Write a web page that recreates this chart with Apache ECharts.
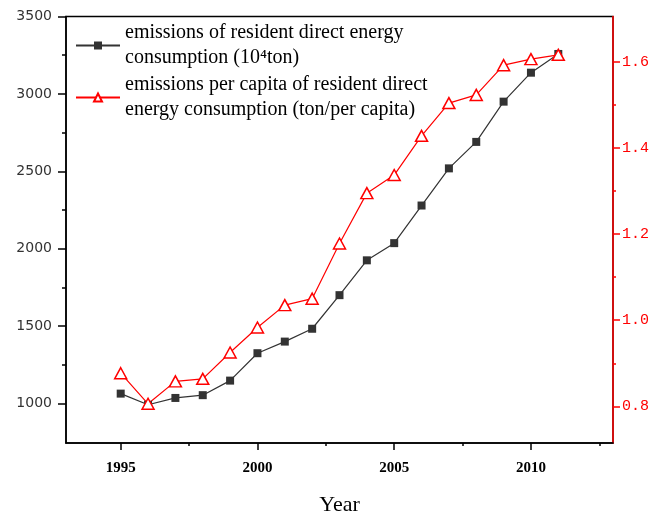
<!DOCTYPE html>
<html>
<head>
<meta charset="utf-8">
<script src="https://cdn.jsdelivr.net/npm/echarts@6/dist/echarts.min.js"></script>
<style>html,body{margin:0;padding:0;background:#fff}#c{width:659px;height:521px}</style>
</head>
<body>
<div id="c"></div>
<script>
const years = [1995,1996,1997,1998,1999,2000,2001,2002,2003,2004,2005,2006,2007,2008,2009,2010,2011];
const totalEmissions = [1064,992,1036,1054,1148,1325,1400,1483,1700,1925,2036,2279,2519,2690,2950,3137,3258];
const perCapita = [0.877,0.806,0.858,0.864,0.925,0.983,1.035,1.05,1.178,1.295,1.337,1.428,1.504,1.523,1.592,1.606,1.616];
const xTicks = [1995,2000,2005,2010];
const xMinorTicks = [1997.5,2002.5,2007.5,2012.5];
const leftTicks = [1000,1500,2000,2500,3000,3500];
const leftMinorTicks = [1250,1750,2250,2750,3250];
const rightTicks = [0.8,1.0,1.2,1.4,1.6];
const rightMinorTicks = [0.9,1.1,1.3,1.5];
const name1 = 'emissions of resident direct energy\nconsumption (10\u2074ton)';
const name2 = 'emissions per capita of resident direct\nenergy consumption (ton/per capita)';

const X_MIN = 1993, X_MAX = 2013;
const L_MIN = 745, L_MAX = 3500;
const R_MIN = 0.715, R_MAX = 1.705;

const chart = echarts.init(document.getElementById('c'), null, {renderer:'canvas'});
const legendText = {fontFamily:'Liberation Serif', fontSize:20, color:'#000', lineHeight:25, padding:[25,0,0,0]};
chart.setOption({
  animation:false,
  grid:{left:66, right:46, top:16.5, bottom:62, show:true, borderColor:'#000', borderWidth:1.5, backgroundColor:'transparent'},
  legend:[
    {data:[name1], left:75, top:8, padding:0, itemWidth:44, itemHeight:10, itemGap:5, textStyle:legendText},
    {data:[name2], left:75, top:60, padding:0, itemWidth:44, itemHeight:10, itemGap:5, textStyle:legendText}
  ],
  xAxis:[
    {type:'value', min:X_MIN, max:X_MAX, position:'bottom',
      axisLine:{show:true, lineStyle:{color:'#000', width:1.5}},
      axisTick:{show:true, customValues:xTicks, length:7, inside:false, lineStyle:{color:'#000', width:1.5}},
      axisLabel:{show:true, customValues:xTicks, margin:18, color:'#000', fontFamily:'Liberation Serif', fontWeight:'bold', fontSize:15, formatter:v=>String(v)},
      splitLine:{show:false},
      name:'Year', nameLocation:'middle', nameGap:51,
      nameTextStyle:{fontFamily:'Liberation Serif', fontSize:22, color:'#000'}},
    {type:'value', min:X_MIN, max:X_MAX, position:'bottom',
      axisLine:{show:false},
      axisTick:{show:true, customValues:xMinorTicks, length:3, lineStyle:{color:'#000', width:1.5}},
      axisLabel:{show:false}, splitLine:{show:false}}
  ],
  yAxis:[
    {type:'value', min:L_MIN, max:L_MAX, position:'left',
      axisLine:{show:true, lineStyle:{color:'#000', width:1.5}},
      axisTick:{show:true, customValues:leftTicks, length:8, lineStyle:{color:'#000', width:1.5}},
      axisLabel:{show:true, customValues:leftTicks, margin:14, color:'#333', fontFamily:'DejaVu Sans', fontSize:14, formatter:v=>String(v)},
      splitLine:{show:false}},
    {type:'value', min:R_MIN, max:R_MAX, position:'right',
      axisLine:{show:true, lineStyle:{color:'#ff0000', width:1.5}},
      axisTick:{show:true, customValues:rightTicks, length:7, lineStyle:{color:'#ff0000', width:1.5}},
      axisLabel:{show:true, customValues:rightTicks, margin:9, color:'#ff0000', fontFamily:'Liberation Mono', fontSize:15, formatter:v=>v.toFixed(1)},
      splitLine:{show:false}},
    {type:'value', min:L_MIN, max:L_MAX, position:'left',
      axisLine:{show:false},
      axisTick:{show:true, customValues:leftMinorTicks, length:4, lineStyle:{color:'#000', width:1.5}},
      axisLabel:{show:false}, splitLine:{show:false}},
    {type:'value', min:R_MIN, max:R_MAX, position:'right',
      axisLine:{show:false},
      axisTick:{show:true, customValues:rightMinorTicks, length:3, lineStyle:{color:'#ff0000', width:1.5}},
      axisLabel:{show:false}, splitLine:{show:false}}
  ],
  series:[
    {name:name1, type:'line', xAxisIndex:0, yAxisIndex:0,
      data:years.map((y,i)=>[y,totalEmissions[i]]),
      symbol:'rect', symbolSize:8,
      lineStyle:{color:'#333', width:1.2},
      itemStyle:{color:'#333', borderColor:'#333', borderWidth:0}},
    {name:name2, type:'line', xAxisIndex:0, yAxisIndex:1,
      data:years.map((y,i)=>[y,perCapita[i]]),
      symbol:'triangle', symbolSize:[12,11],
      lineStyle:{color:'#ff0000', width:1.2},
      itemStyle:{color:'#fff', borderColor:'#ff0000', borderWidth:1.5}}
  ]
});
</script>
</body>
</html>
